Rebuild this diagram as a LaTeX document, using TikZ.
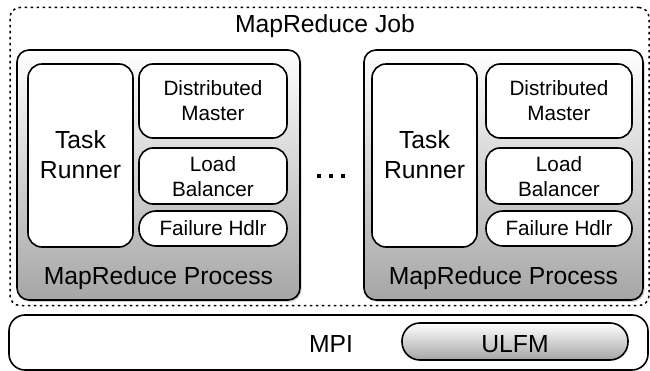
\documentclass[tikz,border=0pt]{standalone}
\usepackage{fontspec}
\setmainfont{Liberation Sans}
\usetikzlibrary{shadows}
\begin{document}
\begin{tikzpicture}[x=1pt,y=-1pt,
  box/.style={draw=black,line width=1.6pt,rounded corners=14pt,fill=white,inner sep=0pt,align=center},
  proc/.style={draw=black,line width=1.6pt,rounded corners=12pt,inner sep=0pt,
    top color=white,bottom color=black!35,
    drop shadow={opacity=0.35,shadow xshift=1.5pt,shadow yshift=-2pt}},
  pill/.style={draw=black,line width=1.6pt,rounded corners=17pt,fill=white,inner sep=0pt},
  bigtxt/.style={font=\fontsize{24.7}{30}\selectfont,inner sep=0pt,anchor=base},
  smalltxt/.style={font=\fontsize{20.7}{25}\selectfont,align=center,inner sep=0pt}
]
\useasboundingbox (0,0) rectangle (650,371);
% outer job frame
\node[draw=black,line width=1.5pt,dash pattern=on 2.5pt off 3.5pt,rounded corners=10pt,
  minimum width=639pt,minimum height=298pt,inner sep=0pt] (job) at (329.5,156.5) {};
\node[bigtxt] (jobt) at (325,33) {MapReduce Job};

% left process
\node[proc,minimum width=283pt,minimum height=250pt] (p1) at (158.5,175) {};
\node[box,minimum width=105pt,minimum height=183pt] (tr1) at (80.5,155.5) {};
\node[font=\fontsize{24.7}{30}\selectfont,align=center,inner sep=0pt] (tr1t) at (80.5,155) {Task\\Runner};
\node[box,minimum width=148pt,minimum height=74pt] (dm1) at (213,101) {};
\node[smalltxt] (dm1t) at (213,101) {Distributed\\Master};
\node[box,minimum width=148pt,minimum height=56pt] (lb1) at (213,176) {};
\node[smalltxt] (lb1t) at (213,176.5) {Load\\Balancer};
\node[pill,minimum width=148pt,minimum height=35pt] (fh1) at (213,228.5) {};
\node[font=\fontsize{20.7}{25}\selectfont,inner sep=0pt,anchor=base] (fh1t) at (213,236) {Failure Hdlr};
\node[bigtxt] (p1t) at (158.5,284) {MapReduce Process};

% right process
\node[proc,minimum width=279pt,minimum height=250pt] (p2) at (503.5,175) {};
\node[box,minimum width=105pt,minimum height=183pt] (tr2) at (424.5,155.5) {};
\node[font=\fontsize{24.7}{30}\selectfont,align=center,inner sep=0pt] (tr2t) at (424.5,155) {Task\\Runner};
\node[box,minimum width=146pt,minimum height=74pt] (dm2) at (559,101) {};
\node[smalltxt] (dm2t) at (559,101) {Distributed\\Master};
\node[box,minimum width=146pt,minimum height=56pt] (lb2) at (559,176) {};
\node[smalltxt] (lb2t) at (559,176.5) {Load\\Balancer};
\node[pill,minimum width=146pt,minimum height=35pt] (fh2) at (559,228.5) {};
\node[font=\fontsize{20.7}{25}\selectfont,inner sep=0pt,anchor=base] (fh2t) at (559,236) {Failure Hdlr};
\node[bigtxt] (p2t) at (503.5,284) {MapReduce Process};

% ellipsis
\foreach \i/\xx in {1/319,2/331,3/343} {
  \node[fill=black,minimum size=4pt,inner sep=0pt] (dot\i) at (\xx,176.5) {};
}

% MPI layer
\node[draw=black,line width=1.6pt,rounded corners=16pt,fill=white,inner sep=0pt,
  minimum width=639pt,minimum height=55pt] (mpi) at (328.5,342.5) {};
\node[bigtxt] (mpit) at (331,352) {MPI};
\node[draw=black,line width=1.6pt,rounded corners=18pt,inner sep=0pt,
  top color=white,bottom color=black!35,
  minimum width=226pt,minimum height=37pt] (ulfm) at (515,341.5) {};
\node[bigtxt] (ulfmt) at (515,352) {ULFM};
\end{tikzpicture}
\end{document}
